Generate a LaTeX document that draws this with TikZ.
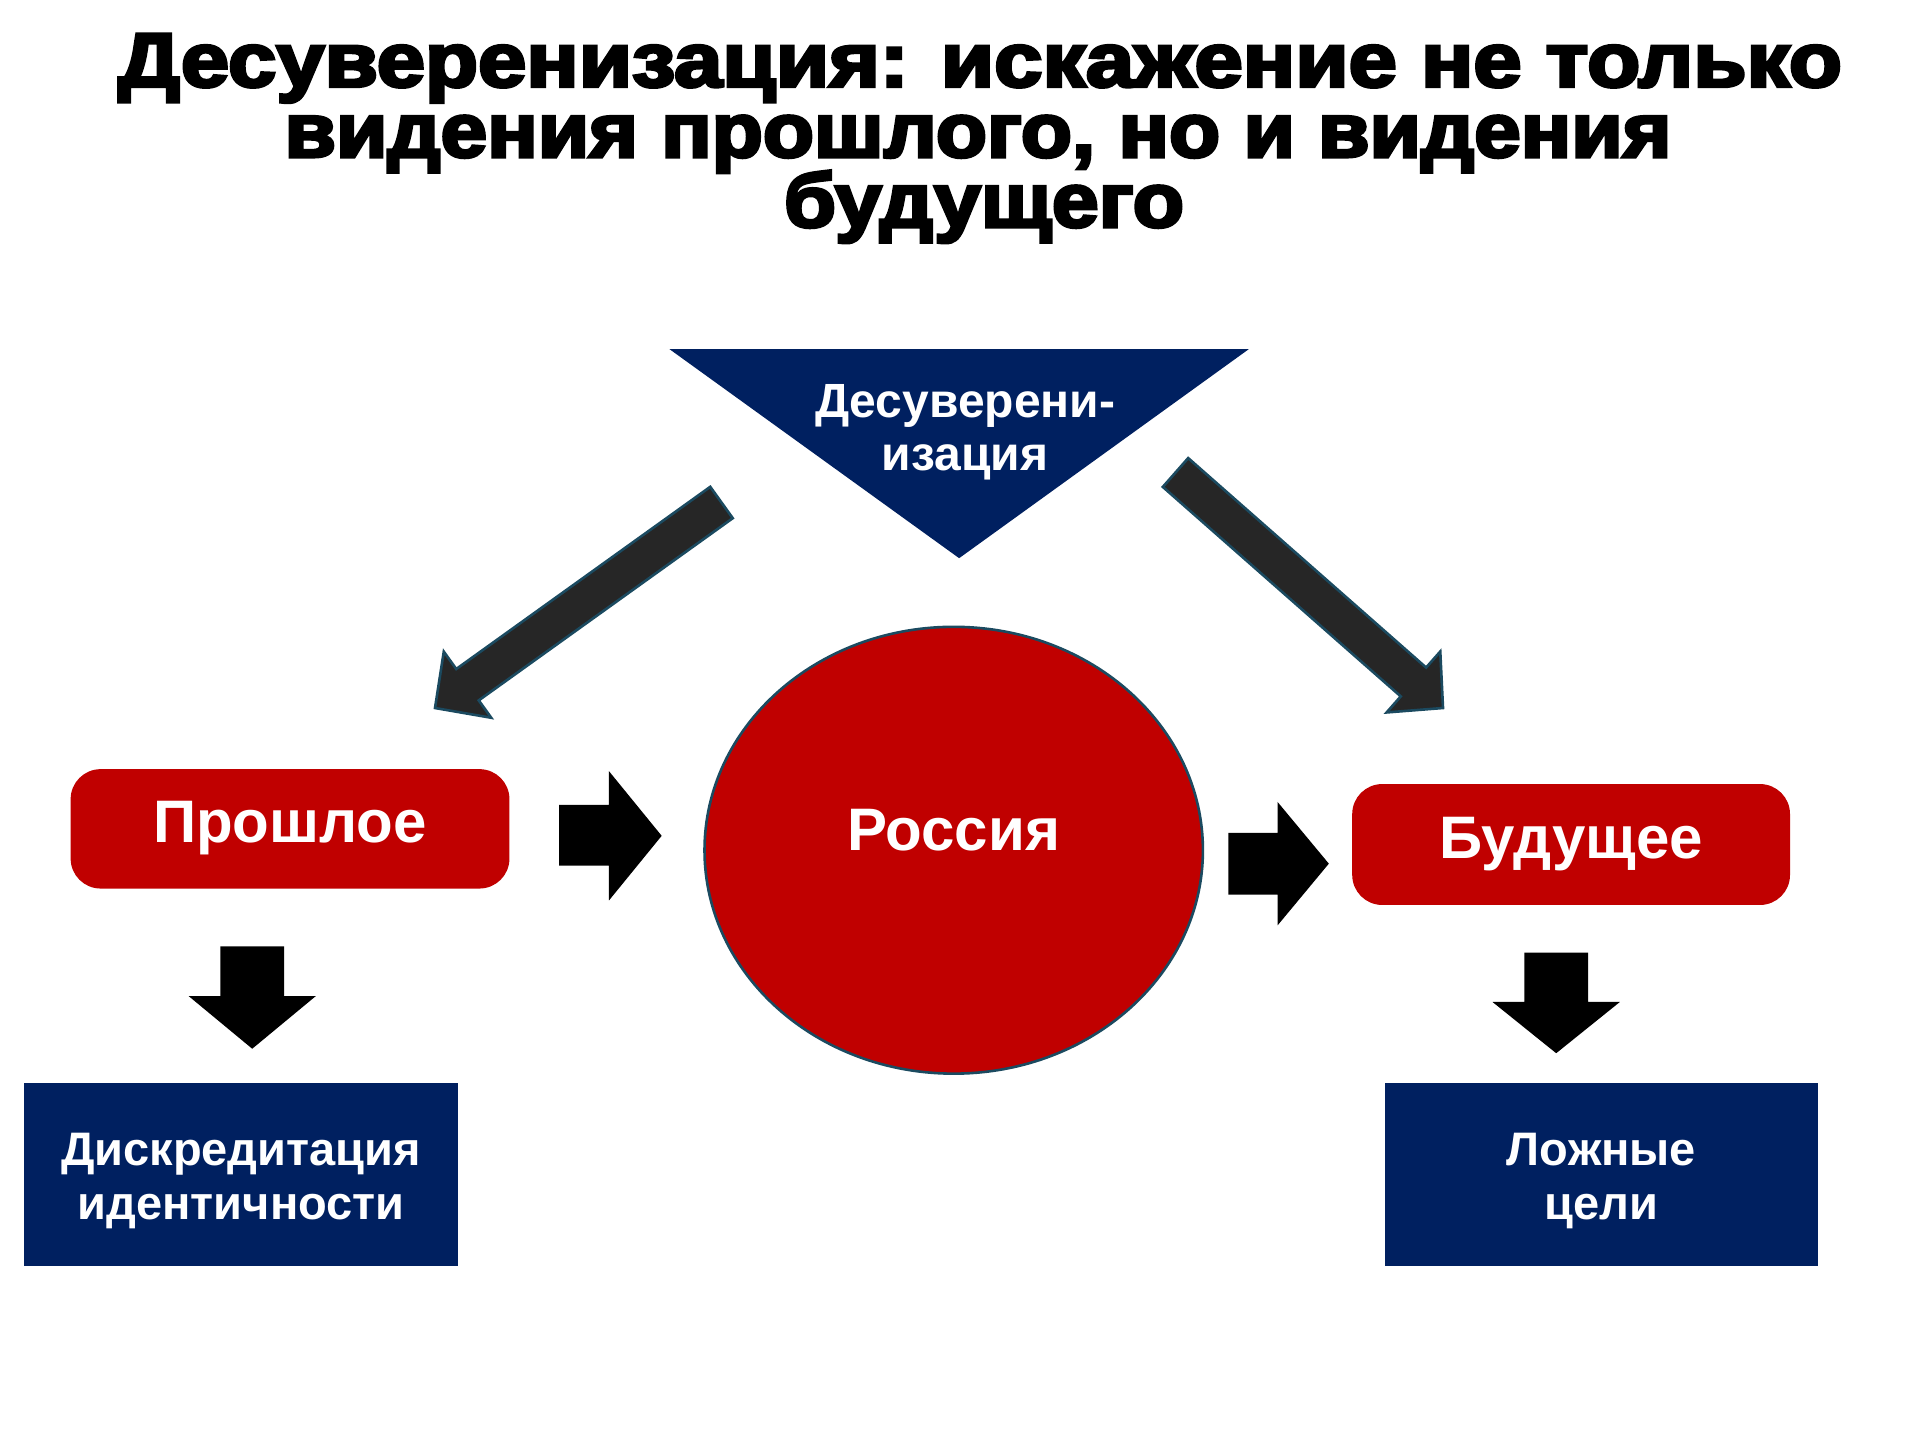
\documentclass[tikz,border=0pt]{standalone}
\usepackage{fontspec}
\usepackage{graphicx}
\setmainfont{Liberation Sans}
\newfontfamily\titlefont{Liberation Sans}[BoldFeatures={FakeBold=4}]
\usetikzlibrary{calc,shapes.geometric}
\definecolor{deepred}{HTML}{C00000}
\definecolor{navyblue}{HTML}{002060}
\definecolor{arrowgray}{HTML}{262626}
\definecolor{tealedge}{HTML}{1B4A60}
\newsavebox\fitbox
\newlength\fitlen
\newcommand\fitline[2]{\sbox\fitbox{#2}\setlength\fitlen{\wd\fitbox}\pgfmathsetmacro\fitfac{#1/\fitlen}\scalebox{\fitfac}[1]{\usebox\fitbox}}
\newcommand\topstrut{\rule{0pt}{23pt}}
\tikzset{
  titletext/.style={anchor=base, inner sep=0pt, font=\titlefont\bfseries\fontsize{38.4}{40}\selectfont},
  redbox/.style={rectangle, rounded corners=15pt, fill=deepred, text=white, inner sep=0pt,
    font=\bfseries\fontsize{30}{32}\selectfont, text height=21.5pt, text depth=8pt},
  bluebox/.style={rectangle, fill=navyblue, text=white, inner sep=0pt, align=center,
    font=\bfseries\fontsize{23.5}{27}\selectfont, minimum width=216.9pt, minimum height=91.8pt},
  diagarrow/.style={fill=arrowgray, draw=tealedge, line width=1.3pt, line join=miter},
  blockarrow/.style={fill=black}
}
\newcommand\slantarrow[5]{%
  \coordinate (#1-base) at ($(#2)!#4!(#1)$);
  \path[diagarrow] ($(#1)!#3!90:(#2)$) -- ($(#1-base)!#3!-90:(#1)$) -- ($(#1-base)!#5!-90:(#1)$)
    -- (#2) -- ($(#1-base)!#5!90:(#1)$) -- ($(#1-base)!#3!90:(#1)$) -- ($(#1)!#3!-90:(#2)$) -- cycle;}
\begin{document}
\begin{tikzpicture}[x=0.5pt,y=-0.5pt]
\useasboundingbox (0,0) rectangle (1920,1440);
\fill[white] (0,0) rectangle (1920,1440);

% title
\node[titletext] (title1) at (980,86.7) {\fitline{862pt}{Десуверенизация: искажение не только}};
\node[titletext] (title2) at (978,157) {\fitline{693.5pt}{видения прошлого, но и видения}};
\node[titletext] (title3) at (984,227) {\fitline{200pt}{будущего}};

% diagonal arrows
\coordinate (ls) at (721.5,502.5);
\coordinate (lt) at (435,708);
\coordinate (rs) at (1175.5,472.5);
\coordinate (rt) at (1443,708);
\slantarrow{ls}{lt}{9.65pt}{20pt}{20.35pt}
\slantarrow{rs}{rt}{9.6pt}{19.7pt}{20.3pt}

\begin{scope}[scale=0.995]
% triangle
\coordinate (tl) at (673,351);
\coordinate (tr) at (1255,351);
\coordinate (apex) at (964,561);
\fill[navyblue] (tl) -- (tr) -- (apex) -- cycle;
\node[text=white, align=center, inner sep=0pt, font=\bfseries\fontsize{24}{26.5}\selectfont] (desov) at (970,434) {Десуверени-\\изация};

% nodes
\node[redbox, minimum width=219.4pt, minimum height=59.7pt] (past) at (291.5,833) {Прошлое};
\node[redbox, minimum width=218.9pt, minimum height=60.45pt] (future) at (1579,848.75) {Будущее};
\node[ellipse, fill=deepred, draw=tealedge, line width=1.3pt, minimum width=249.2pt, minimum height=223.4pt,
  inner sep=0pt, text=white, font=\bfseries\fontsize{30}{32}\selectfont, text height=21.5pt, text depth=21pt] (russia) at (958.5,854.5) {Россия};
\node[bluebox] (discr) at (242.3,1180.3) {\topstrut Дискредитация\\идентичности};
\node[bluebox] (goals) at (1609.5,1180.3) {\topstrut Ложные\\цели};

% block arrows
\fill[blockarrow] (562,809) -- (612,809) -- (612,775) -- (665,840) -- (612,905) -- (612,870) -- (562,870) -- cycle;
\fill[blockarrow] (1234.5,837) -- (1284,837) -- (1284,806) -- (1335.5,868) -- (1284,930) -- (1284,899) -- (1234.5,899) -- cycle;
\fill[blockarrow] (221.5,951) -- (285.5,951) -- (285.5,1001) -- (317.5,1001) -- (253.5,1054) -- (189.5,1001) -- (221.5,1001) -- cycle;
\fill[blockarrow] (1532,957.5) -- (1596,957.5) -- (1596,1007) -- (1628,1007) -- (1564,1058.5) -- (1500,1007) -- (1532,1007) -- cycle;
\end{scope}
\end{tikzpicture}
\end{document}
